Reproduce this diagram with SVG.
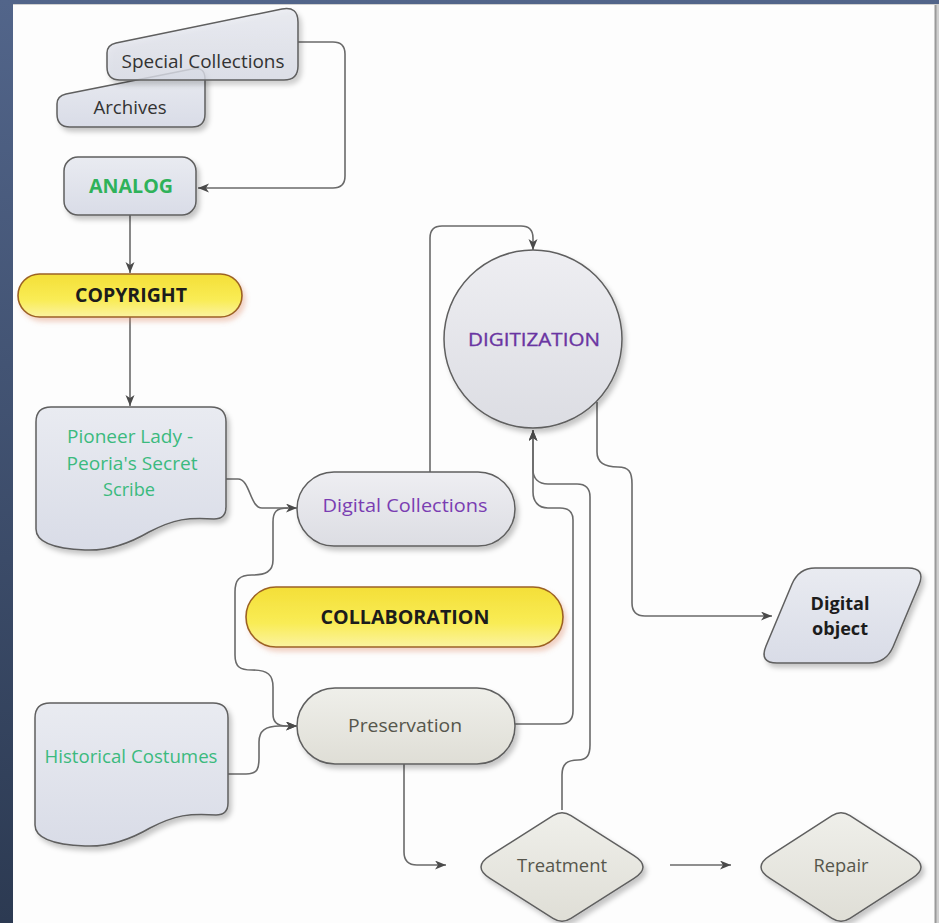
<svg xmlns="http://www.w3.org/2000/svg" width="939" height="923" viewBox="0 0 939 923">
<style>
.node{stroke:#5f5f5f;stroke-width:1.5}
.blue{fill:url(#gBlue)}
.warm{fill:url(#gWarm)}
.gray{fill:url(#gGray)}
.yel{fill:url(#gYel);stroke:#9c6224;stroke-width:1.6}
.conn{fill:none;stroke:#6a6a6a;stroke-width:1.6}
.arr{marker-end:url(#ah)}
text{font-family:"Open Sans","DejaVu Sans",sans-serif;font-size:18px;text-anchor:middle}
.dark{fill:#333}
.bold{font-weight:bold;fill:#1c1c1c}
.caps{font-size:19px}
.green{fill:#2fb25a;font-weight:bold}
.sea{fill:#3bba7e}
.purple{fill:#7a3db2}
.semi{fill:#6a35a2;stroke:#6a35a2;stroke-width:0.35}
.olive{fill:#56564c}
</style>
<defs>
<linearGradient id="gBlue" x1="0" y1="0" x2="0" y2="1"><stop offset="0" stop-color="#e9ebf1"/><stop offset="1" stop-color="#d9dce7"/></linearGradient>
<linearGradient id="gWarm" x1="0" y1="0" x2="0" y2="1"><stop offset="0" stop-color="#efefea"/><stop offset="1" stop-color="#dfded6"/></linearGradient>
<linearGradient id="gGray" x1="0" y1="0" x2="0" y2="1"><stop offset="0" stop-color="#eeeef2"/><stop offset="1" stop-color="#dcdde3"/></linearGradient>
<linearGradient id="gYel" x1="0" y1="0" x2="0" y2="1"><stop offset="0" stop-color="#f4df38"/><stop offset="0.6" stop-color="#f9ec55"/><stop offset="1" stop-color="#fbf3a0"/></linearGradient>
<linearGradient id="gSide" x1="0" y1="0" x2="0" y2="1"><stop offset="0" stop-color="#52658a"/><stop offset="1" stop-color="#2c3a52"/></linearGradient>
<filter id="sh" x="-10%" y="-10%" width="130%" height="130%"><feDropShadow dx="3" dy="4" stdDeviation="2.5" flood-color="#000" flood-opacity="0.22"/></filter>
<filter id="shy" x="-10%" y="-20%" width="130%" height="150%"><feDropShadow dx="3" dy="4" stdDeviation="2.5" flood-color="#d9805a" flood-opacity="0.35"/></filter>
<marker id="ah" markerUnits="userSpaceOnUse" markerWidth="12" markerHeight="10" refX="11" refY="4.5" orient="auto"><path d="M0,0 L11,4.5 L0,9 L3,4.5 Z" fill="#4a4a4a"/></marker>
</defs>

<rect x="0" y="0" width="939" height="923" fill="url(#gSide)"/>
<rect x="13" y="4" width="926" height="919" fill="#d0d0d0"/>
<rect x="13" y="5" width="922" height="918" fill="#fdfdfd"/>
<line x1="935.5" y1="5" x2="935.5" y2="923" stroke="#9a9a9a" stroke-width="2"/>

<g id="connectors">
<path class="conn arr" d="M298,42 H333 Q345,42 345,54 V176 Q345,188 333,188 H198"/>
<path class="conn arr" d="M130,215 V273"/>
<path class="conn arr" d="M130,317 V406"/>
<path class="conn arr" d="M226,479 H238 C250,479 250,508 262,508 H297"/>
<path class="conn arr" d="M288,508 C276,508 273,512 273,522 V560 C273,572 265,575 252,575 C239,575 235,580 235,592 V655 C235,667 240,670 252,670 C268,670 273,675 273,687 V714 C273,722 278,726 286,726 H297"/>
<path class="conn arr" d="M228,774 H246 C258,774 259,768 259,758 V742 C259,731 265,726 280,726 H297"/>
<path class="conn arr" d="M430,472 V238 Q430,226 442,226 H521 Q533,226 533,238 V250"/>
<path class="conn arr" d="M515,724 H560 Q573,724 573,711 V520 Q573,508 560,508 H548 C538,508 533,501 533,492 V430"/>
<path class="conn arr" d="M562,810 V775 C562,764 567,760 578,760 C587,760 590,755 590,745 V497 Q590,484 577,484 H548 C538,484 533,478 533,470 V430"/>
<path class="conn arr" d="M597,402 V452 C597,463 605,467 618,467 C629,467 632,472 632,484 V603 Q632,616 645,616 H772"/>
<path class="conn arr" d="M404,764 V852 Q404,865 417,865 H446"/>
<path class="conn arr" d="M670,865 H731"/>
</g>

<g id="archives">
<path class="node blue" filter="url(#sh)" d="M70,127 Q57,127 57,114 V104 Q57,96 66,94 L192,69 Q205,66 205,79 V114 Q205,127 192,127 Z"/>
<text class="dark" x="130" y="114" textLength="73" lengthAdjust="spacingAndGlyphs">Archives</text>
</g>
<g id="special-collections">
<path class="node blue" filter="url(#sh)" fill-opacity="0.8" d="M120,80 Q107,80 107,67 V53 Q107,45 116,43 L282,9 Q298,6 298,22 V66 Q298,80 284,80 Z"/>
<text class="dark" x="203" y="68" textLength="163" lengthAdjust="spacingAndGlyphs">Special Collections</text>
</g>
<g id="analog">
<rect class="node blue" filter="url(#sh)" x="64" y="157" width="132" height="58" rx="14"/>
<text class="green caps" x="131" y="193" textLength="84" lengthAdjust="spacingAndGlyphs">ANALOG</text>
</g>
<g id="copyright">
<rect class="yel" filter="url(#shy)" x="18" y="274" width="224" height="43" rx="21.5"/>
<text class="bold caps" x="131" y="302" textLength="112" lengthAdjust="spacingAndGlyphs">COPYRIGHT</text>
</g>
<g id="pioneer-lady">
<path class="node blue" filter="url(#sh)" d="M51,407 H211 Q226,407 226,422 V507 Q226,519 214,519 C189,517 174,519 149,532 C125,546 105,551 85,550 C60,549 36,544 36,529 V422 Q36,407 51,407 Z"/>
<text class="sea" x="130" y="443" textLength="126" lengthAdjust="spacingAndGlyphs">Pioneer Lady -</text>
<text class="sea" x="132" y="470" textLength="131" lengthAdjust="spacingAndGlyphs">Peoria's Secret</text>
<text class="sea" x="129" y="496" textLength="52" lengthAdjust="spacingAndGlyphs">Scribe</text>
</g>
<g id="historical-costumes">
<path class="node blue" filter="url(#sh)" d="M50,703 H213 Q228,703 228,718 V803 Q228,815 216,815 C190,813 175,815 150,828 C126,842 105,847 85,846 C60,845 35,840 35,825 V718 Q35,703 50,703 Z"/>
<text class="sea" x="131" y="763" textLength="173" lengthAdjust="spacingAndGlyphs">Historical Costumes</text>
</g>
<g id="digital-collections">
<rect class="node gray" filter="url(#sh)" x="297" y="472" width="218" height="74" rx="37"/>
<text class="purple" x="405" y="512" textLength="165" lengthAdjust="spacingAndGlyphs">Digital Collections</text>
</g>
<g id="collaboration">
<rect class="yel" filter="url(#shy)" x="246" y="587" width="317" height="60" rx="30"/>
<text class="bold caps" x="405" y="624" textLength="169" lengthAdjust="spacingAndGlyphs">COLLABORATION</text>
</g>
<g id="preservation">
<rect class="node warm" filter="url(#sh)" x="297" y="688" width="218" height="76" rx="38"/>
<text class="olive" x="405" y="732" textLength="114" lengthAdjust="spacingAndGlyphs">Preservation</text>
</g>
<g id="digitization">
<circle class="node gray" filter="url(#sh)" cx="533" cy="339" r="89"/>
<text class="semi caps" x="534" y="346" textLength="132" lengthAdjust="spacingAndGlyphs">DIGITIZATION</text>
</g>
<g id="digital-object">
<path class="node blue" filter="url(#sh)" d="M815,568 H908 Q926,568 919,585 L893,647 Q886,663 869,663 H777 Q759,663 766,646 L792,584 Q799,568 815,568 Z"/>
<text class="bold" x="840" y="610" textLength="59" lengthAdjust="spacingAndGlyphs">Digital</text>
<text class="bold" x="840" y="635" textLength="56" lengthAdjust="spacingAndGlyphs">object</text>
</g>
<g id="treatment">
<path class="node warm" filter="url(#sh)" d="M571,815.7 L634,855.6 Q652,867 634,878.4 L571,918.3 Q562,924 553,918.3 L490,878.4 Q472,867 490,855.6 L553,815.7 Q562,810 571,815.7 Z"/>
<text class="olive" x="562" y="872" textLength="90" lengthAdjust="spacingAndGlyphs">Treatment</text>
</g>
<g id="repair">
<path class="node warm" filter="url(#sh)" d="M850,815.7 L912,855.6 Q930,867 912,878.4 L850,918.3 Q841,924 832,918.3 L770,878.4 Q752,867 770,855.6 L832,815.7 Q841,810 850,815.7 Z"/>
<text class="olive" x="841" y="872" textLength="55" lengthAdjust="spacingAndGlyphs">Repair</text>
</g>
</svg>
